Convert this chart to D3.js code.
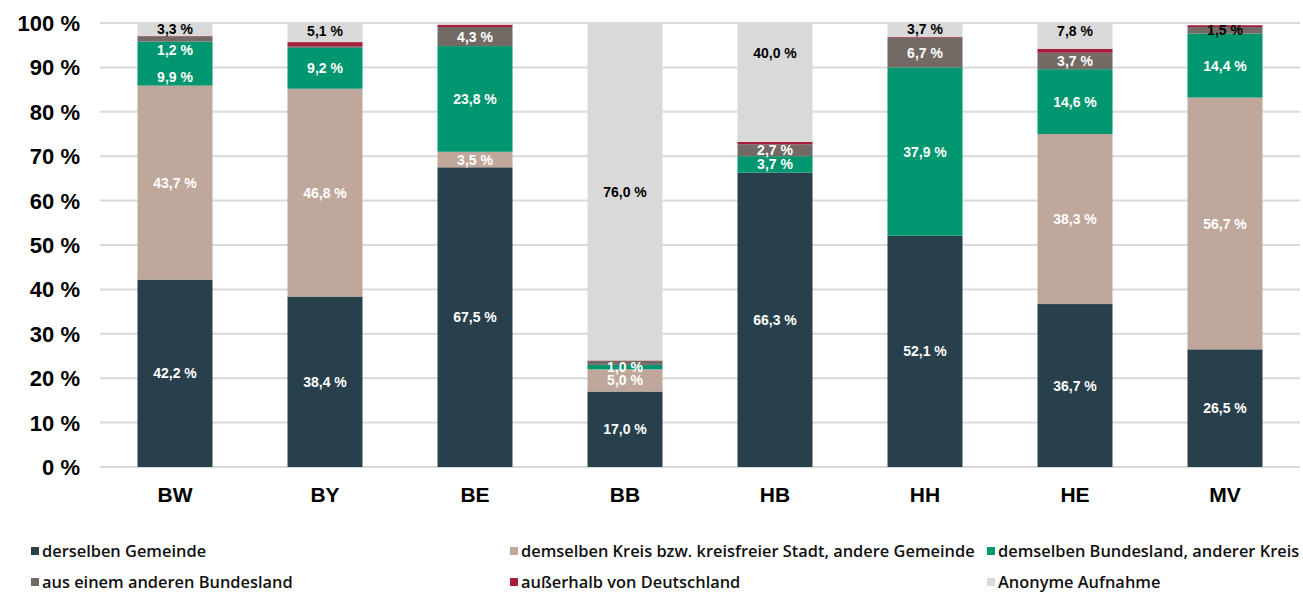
<!DOCTYPE html>
<html><head><meta charset="utf-8">
<script src="https://cdn.jsdelivr.net/npm/d3@7"></script>
<style>
html,body{margin:0;padding:0;background:#fff;}
svg{display:block;}
</style></head>
<body>
<svg id="chart" width="1303" height="594"></svg>
<script>
// ---- data ----
const categories = ["BW","BY","BE","BB","HB","HH","HE","MV"];
const seriesNames = [
  "derselben Gemeinde",
  "demselben Kreis bzw. kreisfreier Stadt, andere Gemeinde",
  "demselben Bundesland, anderer Kreis",
  "aus einem anderen Bundesland",
  "außerhalb von Deutschland",
  "Anonyme Aufnahme"
];
const gemeinde   = [42.2, 38.4, 67.5, 17.0, 66.3, 52.1, 36.7, 26.5];
const kreis      = [43.7, 46.8,  3.5,  5.0,  0.0,  0.0, 38.3, 56.7];
const bundesland = [ 9.9,  9.2, 23.8,  1.0,  3.7, 37.9, 14.6, 14.4];
const andererBL  = [ 1.2,  0.4,  4.3,  0.9,  2.7,  6.7,  3.7,  1.5];
const ausland    = [ 0.1,  0.9,  0.5,  0.1,  0.5,  0.2,  0.9,  0.4];
const anonym     = [ 3.3,  5.1,  0.0, 76.0, 40.0,  3.7,  7.8,  0.0];
const yTicks = [0,10,20,30,40,50,60,70,80,90,100];

const seriesValues = [gemeinde, kreis, bundesland, andererBL, ausland, anonym];
const colors = ["#283f4c","#bfa89b","#009670","#736a65","#a51f3c","#d9d9d9"];

// ---- layout ----
const svg = d3.select("#chart");
const x = d3.scaleBand().domain(categories).range([100, 1300]).paddingInner(0.5).paddingOuter(0.25);
const y = d3.scaleLinear().domain([0, 100]).range([467, 23]);

const fmt = v => d3.format(".1f")(v).replace(".", ",") + " %";

// gridlines
svg.append("g").selectAll("line").data(yTicks).join("line")
  .attr("x1", 100).attr("x2", 1300)
  .attr("y1", d => y(d)).attr("y2", d => y(d))
  .attr("stroke", "#d9d9d9").attr("stroke-width", 2);

// y labels
svg.append("g").selectAll("text").data(yTicks).join("text")
  .attr("x", 80).attr("y", d => y(d)).attr("dy", "0.36em")
  .attr("text-anchor", "end")
  .style("font-family", "'Liberation Sans', Arial, sans-serif")
  .style("font-weight", "bold").style("font-size", "22px").attr("fill", "#000")
  .text(d => d + " %");

// x labels
svg.append("g").selectAll("text").data(categories).join("text")
  .attr("x", d => x(d) + x.bandwidth() / 2).attr("y", 502)
  .attr("text-anchor", "middle")
  .style("font-family", "'Liberation Sans', Arial, sans-serif")
  .style("font-weight", "bold").style("font-size", "21px").attr("fill", "#000")
  .text(d => d);

// stacked data
const rows = categories.map((c, i) => {
  const o = {cat: c};
  seriesNames.forEach((s, j) => o[s] = seriesValues[j][i]);
  return o;
});
const stacked = d3.stack().keys(seriesNames)(rows);

svg.append("defs").append("clipPath").attr("id", "plotclip")
  .append("rect").attr("x", 90).attr("y", y(100)).attr("width", 1220).attr("height", y(0) - y(100));

const barG = svg.append("g").attr("clip-path", "url(#plotclip)");
stacked.forEach((layer, j) => {
  barG.append("g").attr("fill", colors[j]).selectAll("rect").data(layer).join("rect")
    .attr("x", d => x(d.data.cat)).attr("width", x.bandwidth())
    .attr("y", d => y(d[1])).attr("height", d => Math.max(0, y(d[0]) - y(d[1])));
});

// labels
const labelNudge = {"BW|3": 11, "BW|2": 13};
const blackLabel = {"MV|3": true};
const labG = svg.append("g");
stacked.forEach((layer, j) => {
  layer.forEach(d => {
    const v = d[1] - d[0];
    if (v < 1.0) return;
    const key = d.data.cat + "|" + j;
    const cy = y((d[0] + d[1]) / 2) + (labelNudge[key] || 0);
    labG.append("text")
      .attr("x", x(d.data.cat) + x.bandwidth() / 2).attr("y", cy).attr("dy", "0.36em")
      .attr("text-anchor", "middle")
      .style("font-family", "'Liberation Sans', Arial, sans-serif")
      .style("font-weight", "bold").style("font-size", "14px")
      .attr("fill", (j === 5 || blackLabel[key]) ? "#000" : "#fff")
      .text(fmt(seriesValues[j][categories.indexOf(d.data.cat)]));
  });
});

// legend
const legendPos = [[31, 551], [510, 551], [987, 551], [31, 582], [510, 582], [987, 582]];
const lg = svg.append("g");
seriesNames.forEach((s, j) => {
  const [lx, ly] = legendPos[j];
  lg.append("rect").attr("x", lx).attr("y", ly - 4).attr("width", 8).attr("height", 8).attr("fill", colors[j]);
  lg.append("text").attr("x", lx + 11).attr("y", ly).attr("dy", "0.36em")
    .style("font-family", "'Open Sans', sans-serif").style("font-weight", "600").style("font-size", "16.4px")
    .attr("fill", "#111").text(s);
});
</script>
</body></html>
